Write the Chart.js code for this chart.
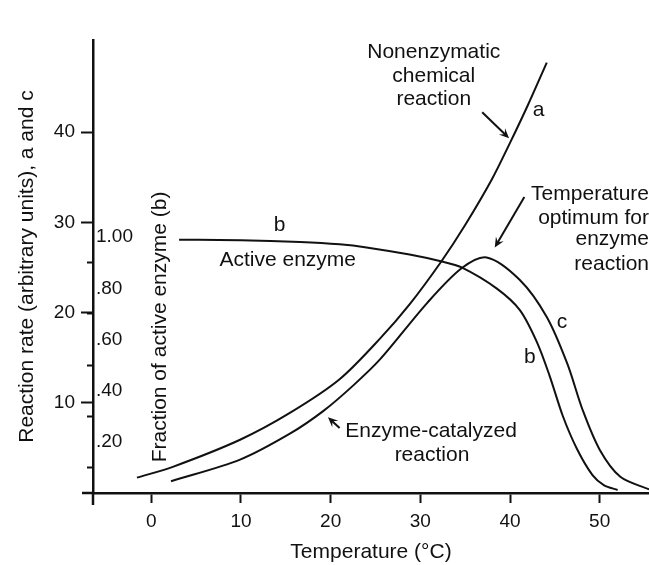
<!DOCTYPE html>
<html>
<head>
<meta charset="utf-8">
<script src="https://cdn.jsdelivr.net/npm/chart.js@4.4.1/dist/chart.umd.min.js"></script>
<style>
  html, body { margin: 0; padding: 0; background: #fff; }
  #wrap { width: 649px; height: 565px; }
</style>
</head>
<body>
<div id="wrap"><canvas id="chart" width="649" height="565"></canvas></div>
<script>
// Curve a: nonenzymatic chemical reaction rate vs temperature
const tempA = [-1.6, 2.4, 9.9, 15.5, 21.0, 25.5, 28.8, 32.3, 35.0, 38.0, 40.0, 42.0, 44.1];
const rateA = [1.7, 2.9, 5.9, 8.9, 12.6, 17.1, 20.9, 25.6, 29.7, 34.8, 38.8, 43.0, 47.7];

// Curve b: fraction of enzyme still active
const tempB = [3.1, 10.0, 16.6, 21.0, 24.0, 28.8, 32.4, 34.6, 38.5, 41.1, 43.0, 44.4, 45.9, 47.5, 49.2, 50.5, 52.0];
const fracB = [0.99, 0.988, 0.981, 0.972, 0.960, 0.932, 0.905, 0.882, 0.80, 0.715, 0.59, 0.46, 0.30, 0.17, 0.07, 0.03, 0.012];

// Curve c: enzyme-catalyzed reaction rate
const tempC = [2.2, 9.9, 15.5, 19.2, 22.5, 25.5, 30.8, 34.6, 37.4, 41.1, 44.1, 46.4, 48.1, 50.0, 52.3, 55.5];
const rateC = [1.3, 3.7, 6.6, 9.1, 11.9, 14.8, 21.1, 24.9, 26.1, 23.6, 19.5, 14.3, 9.2, 4.8, 1.8, 0.4];

// Axis ticks
const tempTicks = [0, 10, 20, 30, 40, 50];
const rateTicks = [10, 20, 30, 40];
const fractionTicks = [0.2, 0.4, 0.6, 0.8, 1.0];
const fractionTickLabels = ['.20', '.40', '.60', '.80', '1.00'];
const fractionMinorTicks = [0.1, 0.3, 0.5, 0.7, 0.9];

// Axis ranges
const TEMP_MIN = -6.5, TEMP_MAX = 55.5;
const RATE_MAX = 50.2;
const RATE_AT_FULL_FRACTION = 28.35;   // rate-axis height where fraction 1.00 sits

const FONT = "'Liberation Sans', Arial, Helvetica, sans-serif";
const INK = '#111';

const pts = (xs, ys) => xs.map((x, i) => ({ x, y: ys[i] }));

// Text and arrows placed in data coordinates
const notes = [
  { text: 'Nonenzymatic', x: 31.5, y: 48.8, align: 'center' },
  { text: 'chemical', x: 31.5, y: 46.2, align: 'center' },
  { text: 'reaction', x: 31.5, y: 43.6, align: 'center' },
  { text: 'a', x: 43.2, y: 42.4, align: 'center' },
  { text: 'Temperature', x: 55.5, y: 33.1, align: 'right' },
  { text: 'optimum for', x: 55.5, y: 30.5, align: 'right' },
  { text: 'enzyme', x: 55.5, y: 28.1, align: 'right' },
  { text: 'reaction', x: 55.5, y: 25.4, align: 'right' },
  { text: 'b', x: 14.3, y: 29.7, align: 'center' },
  { text: 'Active enzyme', x: 7.6, y: 25.8, align: 'left' },
  { text: 'c', x: 45.8, y: 18.9, align: 'center' },
  { text: 'b', x: 42.2, y: 15.1, align: 'center' },
  { text: 'Enzyme-catalyzed', x: 31.2, y: 6.8, align: 'center' },
  { text: 'reaction', x: 31.3, y: 4.2, align: 'center' },
  { text: 'Fraction of active enzyme (b)', x: 0.95, y: 18.4, align: 'center', rotate: true }
];
const arrows = [
  { from: [36.9, 42.2], to: [39.9, 39.3] },
  { from: [41.6, 32.8], to: [38.3, 27.2] },
  { from: [21.0, 7.2], to: [19.7, 8.4] }
];

const notesPlugin = {
  id: 'notes',
  afterDatasetsDraw(chart) {
    const { ctx, chartArea, scales: { x, y } } = chart;
    ctx.save();
    // short overhangs where the two axes cross
    ctx.strokeStyle = INK;
    ctx.lineWidth = 2.5;
    ctx.beginPath();
    ctx.moveTo(chartArea.left - 11, chartArea.bottom);
    ctx.lineTo(chartArea.left, chartArea.bottom);
    ctx.moveTo(chartArea.left, chartArea.bottom);
    ctx.lineTo(chartArea.left, chartArea.bottom + 12);
    ctx.stroke();

    ctx.fillStyle = INK;
    ctx.font = `21px ${FONT}`;
    ctx.textBaseline = 'middle';
    notes.forEach(n => {
      const px = x.getPixelForValue(n.x), py = y.getPixelForValue(n.y);
      ctx.save();
      ctx.translate(px, py);
      if (n.rotate) ctx.rotate(-Math.PI / 2);
      ctx.textAlign = n.align;
      ctx.fillText(n.text, 0, 0);
      ctx.restore();
    });

    ctx.lineWidth = 2;
    arrows.forEach(a => {
      const x1 = x.getPixelForValue(a.from[0]), y1 = y.getPixelForValue(a.from[1]);
      const x2 = x.getPixelForValue(a.to[0]), y2 = y.getPixelForValue(a.to[1]);
      const ang = Math.atan2(y2 - y1, x2 - x1);
      const head = 11, spread = 0.42;
      ctx.beginPath();
      ctx.moveTo(x1, y1);
      ctx.lineTo(x2 - Math.cos(ang) * 4, y2 - Math.sin(ang) * 4);
      ctx.stroke();
      ctx.beginPath();
      ctx.moveTo(x2, y2);
      ctx.lineTo(x2 - head * Math.cos(ang - spread), y2 - head * Math.sin(ang - spread));
      ctx.lineTo(x2 - head * 0.55 * Math.cos(ang), y2 - head * 0.55 * Math.sin(ang));
      ctx.lineTo(x2 - head * Math.cos(ang + spread), y2 - head * Math.sin(ang + spread));
      ctx.closePath();
      ctx.fill();
    });
    ctx.restore();
  }
};

const curveStyle = {
  borderColor: INK,
  borderWidth: 2,
  pointRadius: 0,
  fill: false,
  tension: 0.3
};

new Chart(document.getElementById('chart'), {
  type: 'line',
  data: {
    datasets: [
      { label: 'a', data: pts(tempA, rateA), yAxisID: 'y', ...curveStyle },
      { label: 'b', data: pts(tempB, fracB), yAxisID: 'yf', ...curveStyle },
      { label: 'c', data: pts(tempC, rateC), yAxisID: 'y', ...curveStyle }
    ]
  },
  options: {
    responsive: false,
    devicePixelRatio: 1,
    animation: false,
    layout: { padding: { top: 40, right: 0, left: 0, bottom: 0 } },
    plugins: { legend: { display: false }, tooltip: { enabled: false } },
    scales: {
      x: {
        type: 'linear',
        min: TEMP_MIN,
        max: TEMP_MAX,
        afterFit(s) { s.height = 72; },
        afterBuildTicks(s) { s.ticks = tempTicks.map(v => ({ value: v })); },
        ticks: { color: INK, font: { family: FONT, size: 19 }, padding: 7, maxRotation: 0 },
        grid: { drawOnChartArea: false, tickLength: 10, tickWidth: 2, tickColor: INK },
        border: { display: true, color: INK, width: 2.5 },
        title: { display: true, text: 'Temperature (°C)', color: INK, font: { family: FONT, size: 21 }, padding: { top: 0, bottom: 0 } }
      },
      y: {
        type: 'linear',
        position: 'left',
        weight: 1,
        min: 0,
        max: RATE_MAX,
        afterFit(s) { s.width = 93; },
        afterBuildTicks(s) { s.ticks = rateTicks.map(v => ({ value: v })); },
        ticks: { color: INK, font: { family: FONT, size: 19 }, padding: 6 },
        grid: { drawOnChartArea: false, tickLength: 12, tickWidth: 2, tickColor: INK },
        border: { display: true, color: INK, width: 2.5 },
        title: { display: true, text: 'Reaction rate (arbitrary units), a and c', color: INK, font: { family: FONT, size: 21 }, padding: { top: 15, bottom: 0 } }
      },
      yf: {
        type: 'linear',
        position: 'left',
        weight: 0,
        min: 0,
        max: RATE_MAX / RATE_AT_FULL_FRACTION,
        afterFit(s) { s.width = 0; },
        afterBuildTicks(s) {
          s.ticks = fractionMinorTicks.concat(fractionTicks).sort((p, q) => p - q).map(v => ({ value: v }));
        },
        ticks: {
          mirror: true,
          padding: 3,
          color: INK,
          font: { family: FONT, size: 19 },
          callback(v) {
            const i = fractionTicks.findIndex(t => Math.abs(t - v) < 1e-6);
            return i >= 0 ? fractionTickLabels[i] : '';
          }
        },
        grid: {
          drawOnChartArea: false,
          tickLength: 6,
          tickWidth: 2,
          tickColor: c => fractionMinorTicks.some(t => Math.abs(t - c.tick.value) < 1e-6) ? INK : 'rgba(0,0,0,0)'
        },
        border: { display: false }
      }
    }
  },
  plugins: [notesPlugin]
});
</script>
</body>
</html>
